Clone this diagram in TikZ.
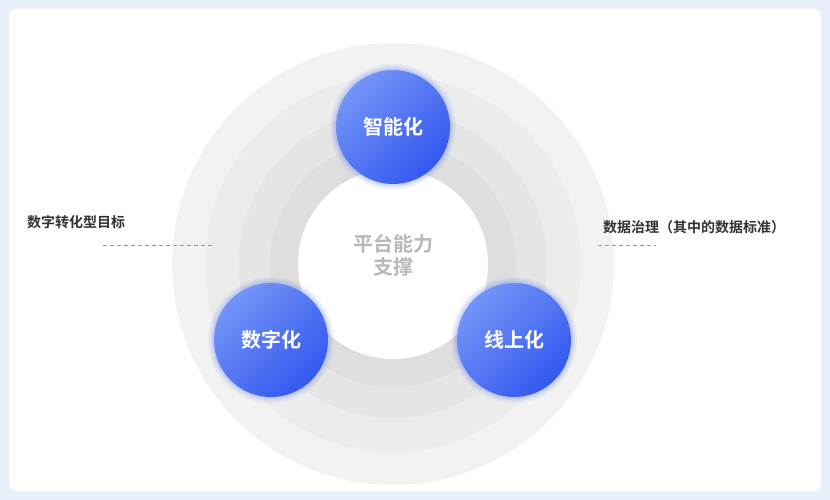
\documentclass[tikz,border=0pt]{standalone}
\usepackage{fontspec}
\setmainfont{Noto Sans CJK SC}[BoldFont={Noto Sans CJK SC Bold}]
\definecolor{frameblue}{HTML}{E8F0FC}
\definecolor{bluea}{HTML}{7394F7}
\definecolor{blueb}{HTML}{3358EF}
\definecolor{labeltxt}{HTML}{333333}
\definecolor{dashc}{HTML}{7F97E6}
\tikzset{
  ball/.style={circle, minimum size=114pt, inner sep=0pt, left color=bluea, right color=blueb, shading angle=45,
    text=white, font=\bfseries\fontsize{20}{20}\selectfont},
  glow/.style={fill=blueb, opacity=#1},
  lab/.style={text=labeltxt, font=\bfseries\fontsize{14}{14}\selectfont, inner sep=0pt},
  dashl/.style={dashc, dash pattern=on 4pt off 3pt, line width=0.8pt}
}
\newcommand{\glowat}[1]{%
  \fill[glow=0.06] (#1) circle (63);
  \fill[glow=0.08] (#1) circle (61);
  \fill[glow=0.12] (#1) circle (59);}
\begin{document}
\begin{tikzpicture}[x=1pt,y=-1pt]
\fill[frameblue] (0,0) rectangle (830,500);
\fill[white, rounded corners=8pt] (9,9) rectangle (821,491);
\coordinate (c) at (393,264);
\fill[black!5] (c) circle (221);
\fill[black!7.5] (c) circle (188);
\fill[black!10] (c) circle (154);
\fill[black!13] (c) circle (123);
\fill[white] (c) circle (95);
\node[text=black!28, font=\bfseries\fontsize{20}{23}\selectfont, align=center] (core) at (393,255) {平台能力\\支撑};
\coordinate (pt) at (393,127); \coordinate (pl) at (271,340); \coordinate (pr) at (514,340);
\glowat{pt}\glowat{pl}\glowat{pr}
\node[ball] (top) at (pt) {智能化};
\node[ball] (left) at (pl) {数字化};
\node[ball] (right) at (pr) {线上化};
\node[lab, anchor=west] (lt) at (27,222) {数字转化型目标};
\node[lab, anchor=west] (rt) at (603,227) {数据治理（其中的数据标准）};
\coordinate (l1) at (103,245); \coordinate (l2) at (212,245);
\coordinate (r1) at (598,245); \coordinate (r2) at (656,245);
\draw[dashl] (l1) -- (l2);
\draw[dashl] (r1) -- (r2);
\end{tikzpicture}
\end{document}
